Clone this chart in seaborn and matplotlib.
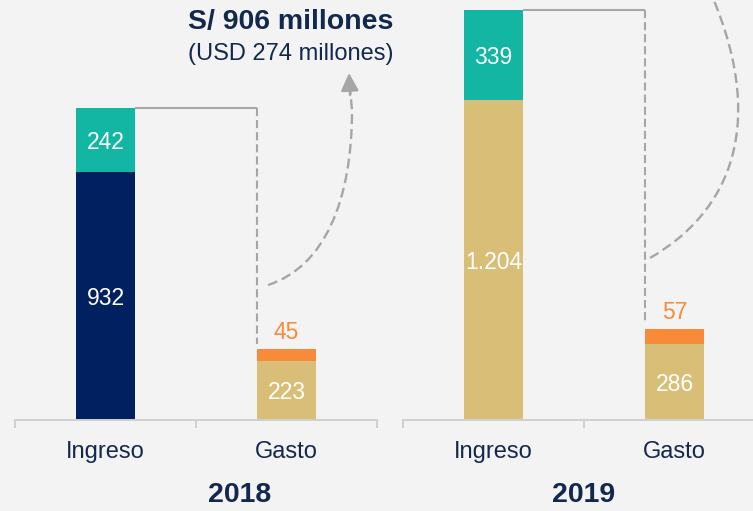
import matplotlib
matplotlib.use("Agg")
import matplotlib.pyplot as plt
from matplotlib.path import Path
from matplotlib.patches import PathPatch
from matplotlib.transforms import IdentityTransform
import seaborn as sns
import pandas as pd

# ---- data ----
years = ["2018", "2019"]
categories = ["Ingreso", "Gasto"]
base_2018 = [932, 223]
top_2018 = [242, 45]
base_2019 = [1204, 286]
top_2019 = [339, 57]
title_main = "S/ 906 millones"
title_sub = "(USD 274 millones)"

NAVY = "#002060"
TEAL = "#13b5a3"
TAN = "#d9be77"
ORANGE = "#f78b3a"
BG = "#f3f3f3"
GRAY = "#a6a6a6"
AXIS = "#d0d0d0"
TXT = "#13284d"

sns.set_theme(style="white")
plt.rcParams["font.family"] = ["Liberation Sans", "DejaVu Sans"]

FW, FH = 753, 511
fig = plt.figure(figsize=(FW / 100, FH / 100), dpi=100, facecolor=BG)
ax1 = fig.add_axes([15 / FW, 91 / FH, 362 / FW, 420 / FH])
ax2 = fig.add_axes([403 / FW, 91 / FH, 362 / FW, 420 / FH])

W = 0.33
panels = [
    (ax1, base_2018, top_2018, {"Ingreso": NAVY, "Gasto": TAN}),
    (ax2, base_2019, top_2019, {"Ingreso": TAN, "Gasto": TAN}),
]


def fmt(v):
    return f"{v:,}".replace(",", ".")


for ax, base, top, base_pal in panels:
    ax.set_facecolor(BG)
    df = pd.DataFrame({"cat": categories, "base": base, "top": top})
    df["total"] = df["base"] + df["top"]
    sns.barplot(data=df, x="cat", y="total", hue="cat", order=categories,
                palette={"Ingreso": TEAL, "Gasto": ORANGE}, width=W,
                saturation=1, errorbar=None, legend=False, linewidth=0, ax=ax)
    sns.barplot(data=df, x="cat", y="base", hue="cat", order=categories,
                palette=base_pal, width=W, saturation=1, errorbar=None,
                legend=False, linewidth=0, ax=ax)
    ax.set_xlim(-0.5, 1.5)
    ax.set_ylim(0, 1581)
    ax.set_xlabel("")
    ax.set_ylabel("")
    ax.set_yticks([])
    for s in ["top", "left", "right"]:
        ax.spines[s].set_visible(False)
    ax.spines["bottom"].set_color(AXIS)
    ax.spines["bottom"].set_linewidth(1.4)
    ax.set_xticks([-0.5, 0.5, 1.5])
    ax.set_xticklabels([])
    ax.tick_params(axis="x", which="major", length=6, width=1.4,
                   color=AXIS, direction="out", bottom=True)
    ax.set_xticks([0, 1], minor=True)
    ax.set_xticklabels(categories, minor=True, fontsize=17, color=TXT)
    ax.tick_params(axis="x", which="minor", length=0, pad=15)

    # value labels
    for i, (b, t) in enumerate(zip(base, top)):
        ax.text(i, b / 2, fmt(b), ha="center", va="center_baseline",
                color="white", fontsize=16.5)
        if categories[i] == "Ingreso":
            ax.text(i, b + t / 2, fmt(t), ha="center", va="center_baseline",
                    color="white", fontsize=16.5)
        else:
            ax.annotate(fmt(t), (i, b + t), xytext=(0, 7),
                        textcoords="offset points", ha="center",
                        va="baseline", color=ORANGE, fontsize=16.5)

    # connector lines
    tot_in = base[0] + top[0]
    tot_ga = base[1] + top[1]
    ax.plot([W / 2, 1 - W / 2], [tot_in, tot_in], color=GRAY, lw=1.5,
            solid_capstyle="butt")
    ax.plot([1 - W / 2, 1 - W / 2], [tot_in, tot_ga + 18], color=GRAY,
            lw=1.5, linestyle=(0, (3.9, 1.9)))

# year labels
ax1.text(0.743, -0.178, years[0], transform=ax1.get_xaxis_transform(),
         ha="center", va="center", fontsize=20.5, fontweight="bold", color=TXT)
ax2.text(0.5, -0.178, years[1], transform=ax2.get_xaxis_transform(),
         ha="center", va="center", fontsize=20.5, fontweight="bold", color=TXT)

# headline
ax1.text(1.025, 1498, title_main, ha="center", va="center", fontsize=20.5,
         fontweight="bold", color=TXT)
ax1.text(1.025, 1377, title_sub, ha="center", va="center", fontsize=17,
         color=TXT)


# curved dashed arrows (decoration, placed in figure pixels from top-left)
def px(x, y):
    return (x, FH - y)


dash = (0, (4.2, 2.1))
left_curve = Path(
    [px(268, 285), px(325, 266.5), px(352, 200), px(352, 110), px(350, 88)],
    [Path.MOVETO, Path.CURVE4, Path.CURVE4, Path.CURVE4, Path.LINETO])
right_curve = Path(
    [px(650, 258), px(728, 213), px(772.7, 125), px(705, -20)],
    [Path.MOVETO, Path.CURVE4, Path.CURVE4, Path.CURVE4])
for p in (left_curve, right_curve):
    patch = PathPatch(p, fill=False, edgecolor=GRAY, lw=1.7, linestyle=dash)
    patch.set_transform(IdentityTransform())
    fig.patches.append(patch)
    patch.set_figure(fig)

ax1.annotate("", xy=px(349, 73), xytext=px(350, 95),
             xycoords="figure pixels", textcoords="figure pixels",
             arrowprops=dict(arrowstyle="-|>,head_length=0.9,head_width=0.45",
                             color=GRAY, lw=1.7, shrinkA=0, shrinkB=0,
                             mutation_scale=12))

fig.savefig("out.png", dpi=100, facecolor=BG)
